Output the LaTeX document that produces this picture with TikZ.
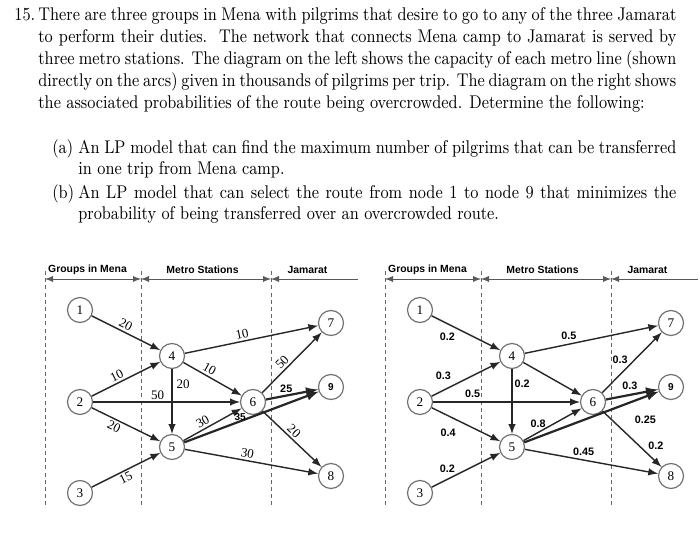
\documentclass[tikz,border=0pt]{standalone}
\usepackage{fontspec}
\usepackage{graphicx}
\usepackage{tikz}
\usetikzlibrary{arrows}
\usetikzlibrary{positioning}
\usetikzlibrary{calc}

\newfontfamily\diagserif{Liberation Serif}
\newfontfamily\diagsans{Liberation Sans}

\newcommand{\qbox}[3]{\scalebox{0.86}[1]{\parbox[t]{#1}{\fontsize{9.2}{#2}\selectfont #3}}}
\newcommand{\qlabel}[1]{\scalebox{0.86}[1]{\fontsize{9.2}{11}\selectfont #1}}

\tikzset{
  station/.style={circle, draw=black!55, line width=0.6pt, fill=white, minimum size=12.5pt, inner sep=0pt, font=\diagserif\fontsize{6.6}{7}\selectfont},
  boldstation/.style={station, font=\diagsans\bfseries\fontsize{5}{6}\selectfont},
  link/.style={draw=black!85, line width=0.7pt, -latex},
  heavylink/.style={link, line width=1.1pt},
  zone/.style={draw=black!60, line width=0.45pt, dash pattern=on 2pt off 1.6pt},
  span/.style={draw=black!65, line width=0.4pt},
  head/.style={font=\diagsans\bfseries\fontsize{5.2}{6}\selectfont, inner sep=0pt},
  capnum/.style={font=\diagserif\fontsize{6.5}{7}\selectfont, inner sep=1pt},
  probnum/.style={font=\diagsans\bfseries\fontsize{5.4}{6}\selectfont, inner sep=1pt},
}

\begin{document}
\begin{tikzpicture}[x=0.5pt, y=-0.5pt]
  \useasboundingbox (0,0) rectangle (700,533);

  % the question
  \node[anchor=base west, inner sep=0] (qnum) at (14,20.5) {\qlabel{15.}};
  \node[anchor=base west, inner sep=0] (question) at (38,20.5) {\qbox{370.9pt}{11pt}{There are three groups in Mena with pilgrims that desire to go to any of the three Jamarat\linebreak to perform their duties.\ \ The network that connects Mena camp to Jamarat is served by\linebreak three metro stations. The diagram on the left shows the capacity of each metro line (shown\linebreak directly on the arcs) given in thousands of pilgrims per trip. The diagram on the right shows\linebreak the associated probabilities of the route being overcrowded. Determine the following:}};
  \node[anchor=base west, inner sep=0] (anum) at (52,154) {\qlabel{(a)}};
  \node[anchor=base west, inner sep=0] (parta) at (78,154) {\qbox{347.7pt}{10.25pt}{An LP model that can find the maximum number of pilgrims that can be transferred\linebreak in one trip from Mena camp.}};
  \node[anchor=base west, inner sep=0] (bnum) at (52,199) {\qlabel{(b)}};
  \node[anchor=base west, inner sep=0] (partb) at (78,199) {\qbox{347.7pt}{10.25pt}{An LP model that can select the route from node 1 to node 9 that minimizes the\linebreak probability of being transferred over an overcrowded route.}};

  % left diagram: capacities
  \draw[zone] (45,271) -- (45,508);
  \draw[zone] (141,271) -- (141,508);
  \draw[zone] (271,271) -- (271,508);
  \draw[span,latex-latex] (45,279) -- (141,279);
  \draw[span,latex-latex] (141,279) -- (271,279);
  \draw[span,latex-] (271,279) -- (358,279);
  \node[head] (groupsA) at (87.5,270) {Groups in Mena};
  \node[head] (metroA) at (202.5,270) {Metro Stations};
  \node[head] (jamaratA) at (307.5,270) {Jamarat};

  \node[station] (a1) at (80,310) {1};
  \node[station] (a2) at (80,402) {2};
  \node[station] (a3) at (80,493) {3};
  \node[station] (a4) at (172,356) {4};
  \node[station] (a5) at (172,447) {5};
  \node[station] (a6) at (253,402) {6};
  \node[station] (a7) at (331,323) {7};
  \node[station] (a8) at (331,476) {8};
  \node[boldstation] (a9) at (331,387) {9};

  \draw[link] (a1) -- node[capnum, sloped, above, pos=0.45] {20} (a4);
  \draw[link] (a2) -- node[capnum, sloped, above, pos=0.41] {10} (a4);
  \draw[link] (a2) -- node[capnum, above, pos=0.44] {50} (a6);
  \draw[link] (a2) -- node[capnum, sloped, below, pos=0.37] {20} (a5);
  \draw[link] (a3) -- node[capnum, sloped, below, pos=0.45] {15} (a5);
  \draw[link] (a4) -- node[capnum, sloped, above, pos=0.44] {10} (a7);
  \draw[link] (a4) -- node[capnum, sloped, above, pos=0.39] {10} (a6);
  \draw[link] (a4) -- node[capnum, right=1pt, pos=0.23] {20} (a5);
  \draw[link] (a5) -- node[capnum, sloped, above, pos=0.39] {30} (a6);
  \draw[link] (a5) -- node[capnum, sloped, above, pos=0.46] {30} (a8);
  \draw[link] (a6) -- node[capnum, sloped, above, pos=0.42] {50} (a7);
  \draw[link] (a6) -- node[capnum, sloped, above, pos=0.45] {20} (a8);
  \draw[heavylink] (a5) -- node[probnum, font=\diagsans\bfseries\fontsize{5}{6}\selectfont, inner sep=0pt, anchor=center, yshift=2.3pt, pos=0.415] {35} (a9);
  \draw[heavylink] (a6) -- node[probnum, above, pos=0.39] {25} (a9);

  % right diagram: probabilities
  \draw[zone] (385,271) -- (385,508);
  \draw[zone] (481,271) -- (481,508);
  \draw[zone] (611,271) -- (611,508);
  \draw[span,latex-latex] (385,279) -- (481,279);
  \draw[span,latex-latex] (481,279) -- (611,279);
  \draw[span,latex-] (611,279) -- (698,279);
  \node[head] (groupsB) at (427.5,270) {Groups in Mena};
  \node[head] (metroB) at (542.5,270) {Metro Stations};
  \node[head] (jamaratB) at (647.5,270) {Jamarat};

  \node[station] (b1) at (420,310) {1};
  \node[station] (b2) at (420,402) {2};
  \node[station] (b3) at (420,493) {3};
  \node[station] (b4) at (512,356) {4};
  \node[station] (b5) at (512,447) {5};
  \node[station] (b6) at (593,402) {6};
  \node[station] (b7) at (671,323) {7};
  \node[station] (b8) at (671,476) {8};
  \node[boldstation] (b9) at (671,387) {9};

  \draw[link] (b1) -- node[probnum, below=3.5pt, pos=0.23] {0.2} (b4);
  \draw[link] (b2) -- node[probnum, above=4pt, pos=0.17] {0.3} (b4);
  \draw[link] (b2) -- node[probnum, above=1pt, pos=0.27] {0.5} (b6);
  \draw[link] (b2) -- node[probnum, below=5pt, pos=0.24] {0.4} (b5);
  \draw[link] (b3) -- node[probnum, above=1.75pt, pos=0.23] {0.2} (b5);
  \draw[link] (b4) -- node[probnum, above=1pt, pos=0.33] {0.5} (b7);
  \draw[link] (b4) -- (b6);
  \draw[link] (b4) -- node[probnum, right, pos=0.23] {0.2} (b5);
  \draw[link] (b5) -- node[probnum, above, xshift=-2pt, pos=0.32] {0.8} (b6);
  \draw[link] (b5) -- node[probnum, above=1pt, pos=0.44] {0.45} (b8);
  \draw[link] (b6) -- node[probnum, left=2pt, pos=0.54] {0.3} (b7);
  \draw[link] (b6) -- node[probnum, above right, pos=0.73] {0.2} (b8);
  \draw[heavylink] (b5) -- node[probnum, below=8pt, pos=0.9] {0.25} (b9);
  \draw[heavylink] (b6) -- node[probnum, above=1pt, pos=0.46] {0.3} (b9);
\end{tikzpicture}
\end{document}
